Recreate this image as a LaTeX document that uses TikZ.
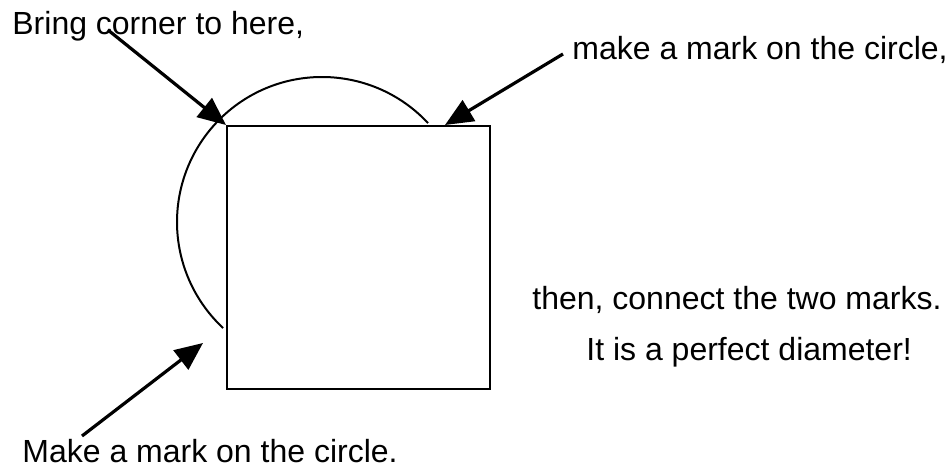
\documentclass[tikz,border=0pt]{standalone}
\usepackage{fontspec}
\setmainfont{Liberation Sans}
\usetikzlibrary{arrows.meta}
\newcommand\PxScale{0.5pt}
\newcommand\Rad{72.5pt}
\tikzset{
  note/.style={
    anchor = base west,
    inner sep = 0pt,
    font = \fontsize{16pt}{19pt}\selectfont
  },
  pointer/.style={
    line width = 1.6pt,
    -{Triangle[length=14pt,width=12pt]}
  },
  outline/.style={
    line width = 1pt
  },
  square/.style={
    shape = rectangle,
    draw,
    inner sep = 0pt,
    minimum width = 131.5pt,
    minimum height = 131.5pt,
    line width = 1pt
  }
}

\begin{document}
\begin{tikzpicture}[x=\PxScale,y=-\PxScale]
    \useasboundingbox (0,0) rectangle (949,470);
    \fill[white] (0,0) rectangle (949,470);

    \node[square] (sq) at (358.5,257.5) {};
    \coordinate (ctr) at (322,222);
    \draw[outline] (ctr) ++(43:\Rad) arc[start angle=43, end angle=227, radius=\Rad];

    \node[note] (bring) at (12,35) {Bring corner to here,};
    \node[note] (marktop) at (572,60) {make a mark on the circle,};
    \node[note] (then) at (532,310) {then, connect the two marks.};
    \node[note] (perfect) at (586,361) {It is a perfect diameter!};
    \node[note] (markbot) at (22,463) {Make a mark on the circle.};

    \coordinate (tailA) at (108,30);
    \coordinate (tailB) at (563,54);
    \coordinate (tailC) at (82,436);
    \coordinate (markB) at (445,125);
    \coordinate (markC) at (203,343);

    \draw[pointer] (tailA) -- (sq.north west);
    \draw[pointer] (tailB) -- (markB);
    \draw[pointer] (tailC) -- (markC);
\end{tikzpicture}
\end{document}
